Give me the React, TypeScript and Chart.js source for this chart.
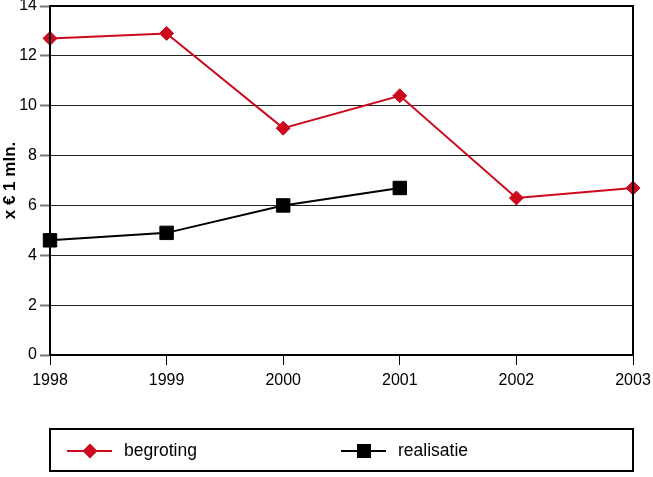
import React, { useEffect, useRef } from "react";
import { Chart, registerables } from "chart.js";

Chart.register(...registerables);

const years = ["1998", "1999", "2000", "2001", "2002", "2003"];
const begroting = [12.7, 12.9, 9.1, 10.4, 6.3, 6.7];
const realisatie = [4.6, 4.9, 6.0, 6.7, null, null];
const seriesNames = ["begroting", "realisatie"];
const yTitle = "x € 1 mln.";

const RED = "#cc0a1e";
const FONT = "'Liberation Sans', Arial, sans-serif";

const frameAndLegend = {
  id: "frameAndLegend",
  afterDraw(chart: any) {
    const ctx = chart.ctx as CanvasRenderingContext2D;
    const a = chart.chartArea;
    ctx.save();
    ctx.strokeStyle = "#000";
    ctx.lineWidth = 2;
    ctx.strokeRect(a.left, a.top, a.right - a.left, a.bottom - a.top);

    const bx = 50, by = 429, bw = 583, bh = 42;
    ctx.lineWidth = 2;
    ctx.strokeRect(bx, by, bw, bh);
    const cy = by + bh / 2 + 1;
    const items = chart.data.datasets.map((d: any, i: number) => ({
      label: d.label,
      color: d.borderColor,
      style: d.pointStyle,
      x0: i === 0 ? 67 : 341,
    }));
    items.forEach((it: any) => {
      ctx.strokeStyle = it.color;
      ctx.fillStyle = it.color;
      ctx.lineWidth = 2;
      ctx.beginPath();
      ctx.moveTo(it.x0, cy);
      ctx.lineTo(it.x0 + 45, cy);
      ctx.stroke();
      const mx = it.x0 + 23;
      ctx.beginPath();
      if (it.style === "rectRot") {
        const r = 7.5;
        ctx.moveTo(mx - r, cy);
        ctx.lineTo(mx, cy - r);
        ctx.lineTo(mx + r, cy);
        ctx.lineTo(mx, cy + r);
        ctx.closePath();
      } else {
        const s = 7;
        ctx.rect(mx - s, cy - s, 2 * s, 2 * s);
      }
      ctx.fill();
      ctx.fillStyle = "#000";
      ctx.font = `17.5px ${FONT}`;
      ctx.textBaseline = "middle";
      ctx.textAlign = "left";
      ctx.fillText(it.label, it.x0 + 57, cy);
    });
    ctx.restore();
  },
};

export default function App() {
  const ref = useRef<HTMLCanvasElement | null>(null);
  useEffect(() => {
    if (!ref.current) return;
    const chart = new Chart(ref.current, {
      type: "line",
      data: {
        labels: years,
        datasets: [
          {
            label: seriesNames[0],
            data: begroting,
            borderColor: RED,
            backgroundColor: RED,
            borderWidth: 2,
            pointStyle: "rectRot",
            pointRadius: 7,
            pointBorderWidth: 1,
            tension: 0,
          },
          {
            label: seriesNames[1],
            data: realisatie,
            borderColor: "#000",
            backgroundColor: "#000",
            borderWidth: 2,
            pointStyle: "rect",
            pointRadius: 9.5,
            pointBorderWidth: 1,
            tension: 0,
          },
        ],
      },
      options: {
        responsive: false,
        animation: false,
        layout: { autoPadding: false, padding: { left: 0, top: 6, right: 20, bottom: 0 } },
        plugins: {
          legend: { display: false },
          tooltip: { enabled: false },
        },
        scales: {
          x: {
            offset: false,
            grid: {
              drawOnChartArea: false,
              tickLength: 10,
              tickColor: "#000",
              tickWidth: 1,
            },
            border: { display: true, color: "#000", width: 2 },
            ticks: {
              color: "#000",
              font: { family: FONT, size: 16 },
              padding: 6,
              maxRotation: 0,
              autoSkip: false,
            },
            afterFit(s: any) {
              s.height = 122;
              s.paddingLeft = 0;
              s.paddingRight = 0;
            },
          },
          y: {
            min: 0,
            max: 14,
            ticks: {
              stepSize: 2,
              color: "#000",
              font: { family: FONT, size: 16, lineHeight: 0.7 },
              padding: 3,
            },
            grid: {
              color: "#222",
              lineWidth: 1,
              tickLength: 10,
              tickColor: "#777",
              tickWidth: 2,
            },
            border: { display: true, color: "#000", width: 2 },
            title: {
              display: true,
              text: yTitle,
              color: "#000",
              font: { family: FONT, size: 17, weight: "bold" },
              padding: { top: 0, bottom: 0 },
            },
            afterFit(s: any) {
              s.width = 50;
              s.paddingTop = 0;
              s.paddingBottom = 0;
            },
          },
        },
      },
      plugins: [frameAndLegend],
    });
    return () => chart.destroy();
  }, []);
  return (
    <canvas
      ref={ref}
      width={653}
      height={477}
      style={{ position: "absolute", left: 0, top: 0, width: 653, height: 477 }}
    />
  );
}
